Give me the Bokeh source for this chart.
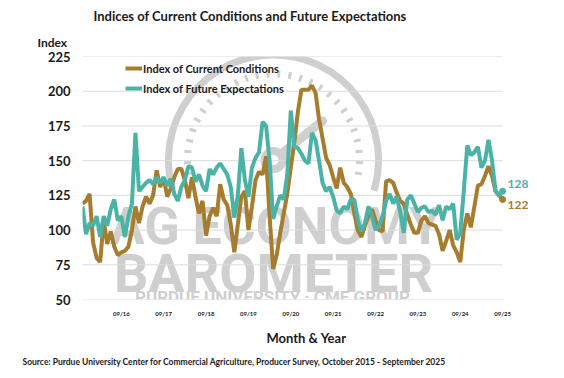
import math
from bokeh.plotting import figure
from bokeh.models import Range1d, FixedTicker, Label, Legend, LegendItem, Title
from bokeh.embed import file_html
from bokeh.resources import INLINE

# ---------------- data (Oct 2015 - Sep 2025, monthly) ----------------
current = [119, 121, 126, 91, 80, 77, 107, 90, 99, 88,
           82, 84, 85, 88, 100, 117, 105, 117, 124, 119,
           125, 143, 131, 138, 124, 130, 138, 144, 144, 136,
           123, 138, 124, 112, 121, 96, 110, 116, 110, 133,
           122, 118, 104, 84, 104, 124, 128, 100, 117, 136,
           142, 140, 153, 110, 72, 82, 98, 112, 126, 145,
           163, 185, 201, 201, 201, 204, 199, 180, 166, 152,
           147, 138, 130, 145, 134, 131, 126, 112, 100, 95,
           103, 110, 115, 107, 100, 99, 135, 136, 134, 127,
           121, 119, 111, 104, 98, 98, 107, 110, 105, 104,
           103, 97, 85, 92, 100, 89, 84, 77, 100, 112,
           102, 117, 132, 133, 139, 146, 139, 128, 125, 122]
future = [117, 97, 105, 103, 110, 95, 110, 103, 115, 122,
          107, 110, 95, 110, 119, 170, 128, 131, 134, 136,
          133, 138, 134, 138, 132, 137, 126, 121, 131, 136,
          146, 145, 135, 140, 132, 128, 144, 140, 145, 148,
          144, 140, 131, 109, 125, 159, 136, 124, 145, 152,
          156, 178, 175, 150, 108, 117, 125, 122, 140, 186,
          160, 159, 155, 150, 148, 170, 165, 150, 134, 128,
          131, 124, 114, 112, 117, 115, 122, 122, 107, 99,
          105, 117, 110, 100, 103, 110, 121, 126, 119, 124,
          113, 98, 122, 125, 119, 113, 116, 117, 113, 114,
          111, 118, 107, 117, 115, 119, 93, 98, 128, 161,
          154, 156, 160, 145, 150, 165, 150, 128, 125, 128]
months = list(range(len(current)))
tick_pos = [11, 23, 35, 47, 59, 71, 83, 95, 107, 119]
tick_labels = ["09/16", "09/17", "09/18", "09/19", "09/20",
               "09/21", "09/22", "09/23", "09/24", "09/25"]
y_ticks = [50, 75, 100, 125, 150, 175, 200, 225]
series_names = ["Index of Current Conditions", "Index of Future Expectations"]

BROWN = "#A67C2E"
TEAL = "#4BB3A6"
WM = "#cfcfcf"
TXT = "#1a1a1a"
FONT = "Lato"

FW, FH = 448, 249  # frame size in px
X0, X1 = 0, 126.9   # extra room on the right for the end labels
Y0, Y1 = 50, 225

p = figure(width=548, height=368, output_backend="svg", toolbar_location=None,
           x_range=Range1d(X0, X1), y_range=Range1d(Y0, Y1),
           min_border_left=82, min_border_right=18,
           min_border_top=56, min_border_bottom=63)
p.title = None
p.outline_line_color = None
p.background_fill_color = "white"
p.border_fill_color = "white"
p.xgrid.visible = False
p.ygrid.visible = False

p.yaxis.ticker = FixedTicker(ticks=y_ticks)
p.xaxis.ticker = FixedTicker(ticks=tick_pos)
p.xaxis.major_label_overrides = {t: l for t, l in zip(tick_pos, tick_labels)}
for ax in (p.xaxis, p.yaxis):
    ax.axis_line_color = None
    ax.major_tick_line_color = None
    ax.minor_tick_line_color = None
    ax.major_tick_out = 0
    ax.major_tick_in = 0
    ax.minor_tick_out = 0
    ax.major_label_text_font = FONT
    ax.major_label_text_font_style = "bold"
    ax.major_label_text_color = TXT
p.yaxis.major_label_text_font_size = "13px"
p.yaxis.major_label_standoff = 12
p.xaxis.major_label_text_font_size = "6px"
p.xaxis.major_label_standoff = 10

# horizontal gridlines spanning the data period only
p.segment(x0=[months[0]] * len(y_ticks), x1=[months[-1]] * len(y_ticks),
          y0=y_ticks, y1=y_ticks, line_color="#dcdcdc", line_width=1,
          level="underlay")


def to_data(sx, sy):
    """frame-relative screen px -> data coords (for decorative watermark)"""
    return X0 + sx / FW * (X1 - X0), Y0 + sy / FH * (Y1 - Y0)


# ---------------- watermark (decorative) ----------------
cx, cy = to_data(191, 143)
p.arc(x=[cx], y=[cy], radius=105, radius_units="screen",
      start_angle=math.radians(-17), end_angle=math.radians(196),
      line_color=WM, line_width=7, level="image")
p.arc(x=[cx], y=[cy], radius=86, radius_units="screen",
      start_angle=math.radians(-10), end_angle=math.radians(190),
      line_color=WM, line_width=7, line_dash="3 8", level="image")
nx, ny = to_data(240, 183)
p.segment(x0=[cx], y0=[cy], x1=[nx], y1=[ny], line_color=WM, line_width=9,
          line_cap="round", level="image")
p.scatter(x=[cx], y=[cy], size=26, marker="circle", fill_color=WM,
          line_color=None, level="image")
p.scatter(x=[cx], y=[cy], size=10, marker="circle", fill_color="white",
          line_color=None, level="image")

for txt, sx, sy, size in [("AG ECONOMY", 193, 73, "52px"),
                          ("BAROMETER", 191, 26, "54px"),
                          ("PURDUE UNIVERSITY \u00b7 CME GROUP", 190, 3, "17px")]:
    p.add_layout(Label(x=sx, y=sy, x_units="screen", y_units="screen", text=txt,
                       text_font="Roboto", text_font_style="bold",
                       text_font_size=size, text_color=WM, text_align="center",
                       text_baseline="alphabetic", level="image"))

# ---------------- series ----------------
r1 = p.line(months, current, line_color=BROWN, line_width=4)
r2 = p.line(months, future, line_color=TEAL, line_width=4)
p.scatter([months[-1]], [current[-1]], size=6, color=BROWN)
p.scatter([months[-1]], [future[-1]], size=6, color=TEAL)

p.add_layout(Label(x=months[-1], y=future[-1], text=str(future[-1]), x_offset=5,
                   y_offset=7, text_font=FONT, text_font_style="bold",
                   text_font_size="12px", text_color=TEAL, text_baseline="middle"))
p.add_layout(Label(x=months[-1], y=current[-1], text=str(current[-1]), x_offset=5,
                   y_offset=-5, text_font=FONT, text_font_style="bold",
                   text_font_size="12px", text_color=BROWN, text_baseline="middle"))

legend = Legend(items=[LegendItem(label=series_names[0], renderers=[r1]),
                       LegendItem(label=series_names[1], renderers=[r2])],
                location=(43, 201), orientation="vertical")
legend.background_fill_alpha = 0
legend.border_line_color = None
legend.padding = 0
legend.margin = 0
legend.spacing = 0
legend.glyph_width = 17
legend.glyph_height = 20
legend.label_height = 20
legend.label_standoff = 1
legend.label_text_font = FONT
legend.label_text_font_style = "bold"
legend.label_text_font_size = "11px"
legend.label_text_color = TXT
p.add_layout(legend)

# ---------------- texts outside the plot area ----------------
def side_title(txt, place, size, align="left", offset=0, standoff=0):
    p.add_layout(Title(text=txt, align=align, offset=offset, standoff=standoff,
                       text_font=FONT, text_font_style="bold",
                       text_font_size=size, text_color=TXT), place)

side_title("Index", "above", "12px", offset=-45, standoff=13)
side_title("Indices of Current Conditions and Future Expectations", "above", "13px",
           offset=11, standoff=5)
side_title("Month & Year", "below", "13px", align="center", offset=-19, standoff=16)
side_title("Source: Purdue University Center for Commercial Agriculture, Producer "
           "Survey, October 2015 - September 2025", "below", "8.5px", offset=-60,
           standoff=2.5)

open("out.html", "w").write(file_html(p, INLINE))
